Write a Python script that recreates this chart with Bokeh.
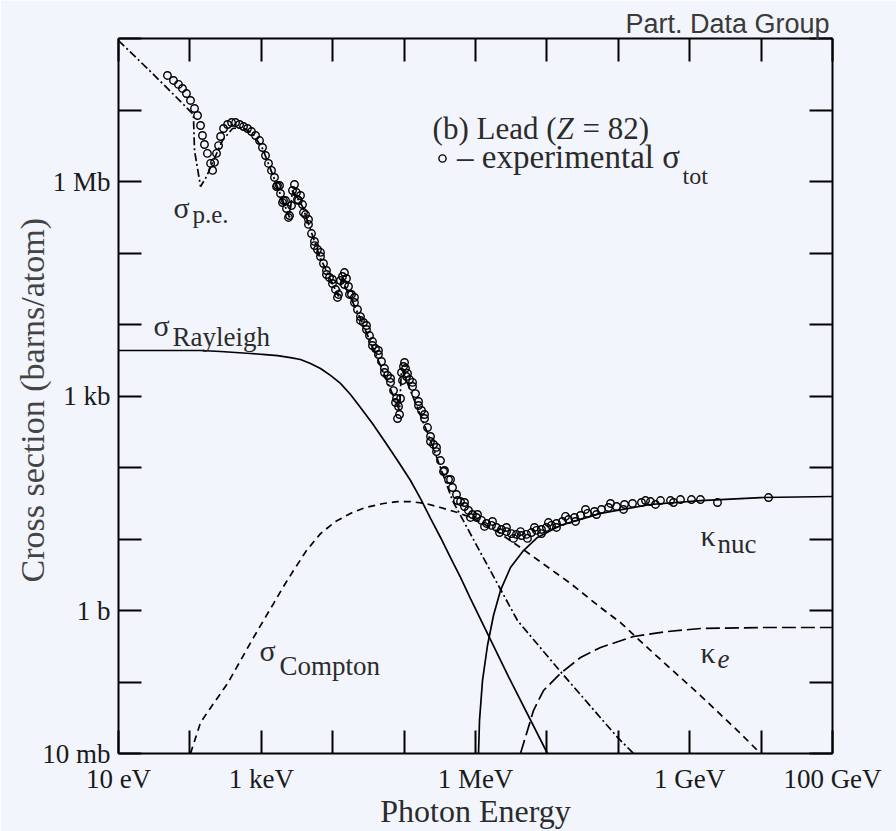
import numpy as np
from bokeh.plotting import figure
from bokeh.models import (Range1d, LogAxis, FixedTicker, CustomJSTickFormatter,
                          Label, Legend, LegendItem)
from bokeh.embed import file_html
from bokeh.resources import INLINE

# ---------------- data (photon energy in eV, cross section in barns/atom) -------------
# experimental total cross section, main sequence of points
tot_E = [48.5, 58.9, 69.2, 78.7, 89.5, 102, 116, 128, 141, 150,
         160, 176, 195, 208, 221, 236, 252, 269, 296, 337,
         383, 436, 496, 564, 641, 730, 830, 944, 1040, 1146,
         1262, 1390, 1531, 1687, 1858, 2046, 2254, 2483, 2649, 2735,
         2917, 3112, 3319, 3540, 3776, 4159, 4581, 5047, 5559, 6124,
         6745, 7430, 8185, 9016, 9931, 10940, 12050, 12850, 13710, 14620,
         15600, 16630, 18320, 20180, 22230, 24490, 26980, 29720, 32730, 36060,
         39720, 43750, 48190, 53090, 58610, 64570, 71120, 78340, 83560, 86300,
         92040, 98170, 1.047e5, 1.117e5, 1.191e5, 1.312e5, 1.445e5, 1.592e5, 1.754e5, 1.932e5,
         2.128e5, 2.344e5, 2.582e5, 2.844e5, 3.236e5, 3.681e5, 4.188e5, 4.764e5, 5.420e5, 6.166e5,
         7.015e5, 7.980e5, 9.078e5, 1.033e6, 1.213e6, 1.426e6, 1.675e6, 1.968e6, 2.312e6, 2.716e6,
         3.192e6, 3.750e6, 4.406e6, 5.176e6, 6.081e6, 7.145e6, 8.395e6, 9.863e6, 1.159e7, 1.361e7,
         1.652e7, 2.009e7, 2.438e7, 2.958e7, 3.707e7, 4.645e7, 5.821e7, 7.295e7, 9.441e7, 1.222e8,
         1.581e8, 2.113e8, 2.825e8, 3.899e8, 5.383e8, 7.430e8, 1.059e9, 1.416e9, 2.449e9, 1.271e10]
tot_sigma = [3.04e7, 2.59e7, 2.28e7, 2.00e7, 1.70e7, 1.36e7, 1.05e7, 8.38e6, 6.07e6, 4.40e6,
             3.29e6, 2.47e6, 1.79e6, 1.43e6, 1.85e6, 2.47e6, 3.18e6, 4.26e6, 5.51e6, 6.27e6,
             6.68e6, 6.68e6, 6.27e6, 5.87e6, 5.51e6, 5.00e6, 4.40e6, 3.74e6, 2.99e6, 2.31e6,
             1.79e6, 1.43e6, 1.14e6, 8.79e5, 6.79e5, 5.42e5, 4.19e5, 3.34e5, 4.61e5, 7.48e5,
             9.08e5, 7.01e5, 5.42e5, 6.37e5, 4.76e5, 3.45e5, 2.51e5, 1.87e5, 1.45e5, 1.12e5,
             8.93e4, 7.13e4, 5.69e4, 4.54e4, 3.74e4, 3.09e4, 2.63e4, 4.12e4, 4.69e4, 3.62e4,
             4.40e4, 3.40e4, 2.63e4, 2.03e4, 1.62e4, 1.29e4, 1.07e4, 8.51e3, 7.01e3, 5.78e3,
             4.61e3, 3.80e3, 3.04e3, 2.43e3, 1.94e3, 1.55e3, 1.19e3, 923, 713, 551,
             2.13e3, 2.59e3, 2.43e3, 2.07e3, 1.70e3, 1.36e3, 1.08e3, 838, 627, 484,
             362, 272, 210, 167, 125, 90.8, 67.9, 52.5, 41.9, 33.4,
             28.5, 25.1, 22.0, 20.0, 18.2, 16.5, 15.5, 14.5, 13.6, 12.7,
             11.9, 11.6, 11.2, 11.6, 12.3, 13.2, 13.6, 14.5, 15.5, 16.5,
             17.6, 18.7, 20.0, 21.3, 22.8, 24.3, 25.9, 27.6, 28.5, 30.4,
             31.4, 32.4, 33.4, 34.5, 34.5, 35.6, 35.6, 35.6, 32.4, 38.0]

# further experimental points (scatter between data sets)
tot2_E = [1633, 1799, 1982, 2183, 2404, 3214, 3899, 4581, 5559, 6745,
          8185, 9931, 11670, 14620, 17180, 20180, 24490, 29720, 36060, 43750,
          53090, 64570, 75860, 80910, 89130, 95060, 1.014e5, 1.081e5, 1.312e5, 1.592e5,
          1.932e5, 2.344e5, 2.844e5, 3.565e5, 4.467e5, 5.598e5, 7.015e5, 8.511e5, 1.067e6, 1.337e6,
          1.730e6, 2.168e6, 2.716e6, 3.404e6, 4.266e6, 5.346e6, 6.699e6, 8.395e6, 1.052e7, 1.361e7,
          1.824e7, 2.518e7, 3.475e7, 4.955e7, 7.780e7, 1.183e8, 2.404e8, 3.319e8, 5.929e8]
tot2_sigma = [8.51e5, 8.79e5, 5.08e5, 5.42e5, 3.14e5, 5.60e5, 3.68e5, 2.94e5, 1.27e5, 1.02e5,
              5.00e4, 4.26e4, 2.39e4, 5.33e4, 2.63e4, 2.39e4, 1.14e4, 9.68e3, 5.08e3, 4.33e3,
              2.13e3, 1.76e3, 811, 484, 923, 1.65e3, 2.94e3, 1.87e3, 1.55e3, 736,
              551, 231, 191, 87.9, 67.9, 34.5, 32.4, 20.0, 22.0, 15.0,
              17.6, 12.3, 14.5, 10.2, 12.7, 10.2, 14.5, 11.9, 17.0, 14.5,
              20.7, 17.6, 25.9, 22.0, 31.4, 25.9, 34.5, 30.4, 32.4]

# photoelectric absorption
pe_E = [10, 28.1, 62.8, 112, 116, 141, 171, 214, 286, 395, 546, 754, 1040, 1531, 2483,
        2735, 3776, 6745, 12050, 13270, 24490, 86300, 92040, 2.344e5, 4.764e5, 1.175e6,
        3.873e6, 1.549e7, 9.75e7, 1.633e8]
pe_sigma = [9.38e7, 3.45e7, 1.55e7, 8.65e6, 2.72e6, 8.51e5, 1.17e6, 1.97e6, 3.74e6, 5.51e6,
            5.69e6, 4.69e6, 2.90e6, 1.07e6, 3.14e5, 7.48e5, 4.47e5, 8.38e4, 2.47e4, 4.40e4,
            1.21e4, 627, 2.43e3, 239, 34.5, 6.47, 0.724, 0.140, 0.0168, 0.0100]

# Rayleigh (coherent) scattering
ray_E = [10, 141, 269, 706, 1146, 1687, 2564, 3540, 4887, 6745, 9311, 12850, 17740, 24490,
         36060, 54830, 80910, 1.230e5, 1.698e5, 2.344e5, 3.236e5, 4.467e5, 6.166e5, 8.511e5,
         2.897e6, 1.019e7]
ray_sigma = [4.33e3, 4.33e3, 4.19e3, 3.93e3, 3.80e3, 3.68e3, 3.45e3, 3.24e3, 2.85e3, 2.43e3,
             1.94e3, 1.50e3, 1.05e3, 690, 412, 224, 125, 65.8, 36.8, 19.4, 10.5, 5.51, 2.90,
             1.47, 0.119, 0.0100]

# Compton (incoherent) scattering
comp_E = [102, 141, 214, 337, 512, 778, 1074, 1483, 2046, 2825, 4295, 6745, 10940, 17740,
          28770, 51400, 80910, 1.230e5, 1.995e5, 3.236e5, 5.598e5, 9.376e5, 1.905e6, 4.266e6,
          9.550e6, 2.143e7, 5.636e7, 1.074e8, 2.825e8, 1.416e9, 5.140e9, 9.82e9]
comp_sigma = [0.0100, 0.0272, 0.0500, 0.0953, 0.200, 0.419, 0.724, 1.25, 2.17, 3.62, 6.90,
              11.9, 17.6, 22.8, 27.6, 31.4, 33.4, 33.4, 31.4, 27.6, 23.5, 19.4, 13.2, 7.60,
              4.26, 2.39, 1.10, 0.679, 0.276, 0.0647, 0.0191, 0.0100]

# pair production, nuclear field
nuc_E = [1.102e6, 1.138e6, 1.254e6, 1.472e6, 1.786e6, 2.239e6, 3.090e6, 4.699e6, 7.379e6,
         1.549e7, 5.636e7, 2.825e8, 1.416e9, 9.82e9, 1e11]
nuc_sigma = [0.0100, 0.0290, 0.105, 0.324, 0.851, 1.91, 3.99, 6.90, 10.5, 15.5, 22.8, 30.4,
             34.5, 38.0, 39.3]

# pair production, electron field
ke_E = [4.266e6, 5.346e6, 6.486e6, 8.954e6, 1.549e7, 2.958e7, 5.636e7, 1.633e8, 4.887e8,
        1.416e9, 9.82e9, 1e11]
ke_sigma = [0.0100, 0.0210, 0.0399, 0.0760, 0.132, 0.220, 0.304, 0.433, 0.508, 0.560, 0.578,
            0.578]

X_TICKS = [1e1, 1e2, 1e3, 1e4, 1e5, 1e6, 1e7, 1e8, 1e9, 1e10, 1e11]
X_TICK_LABELS = ["10 eV", "", "1 keV", "", "", "1 MeV", "", "", "1 GeV", "", "100 GeV"]
Y_TICKS = [1e-2, 1e-1, 1e0, 1e1, 1e2, 1e3, 1e4, 1e5, 1e6, 1e7, 1e8]
Y_TICK_LABELS = ["10 mb", "", "1 b", "", "", "1 kb", "", "", "1 Mb", "", ""]

# ---------------- figure ----------------
SERIF = "Liberation Serif"
BG = "#f3f5fc"
INK = "#2b2b2b"

p = figure(width=896, height=831, x_axis_type="log", y_axis_type="log",
           x_range=Range1d(10, 1e11), y_range=Range1d(1e-2, 1e8),
           output_backend="svg", toolbar_location=None,
           min_border_left=118, min_border_right=64, min_border_top=38, min_border_bottom=78,
           background_fill_color=BG, border_fill_color=BG)
p.xgrid.visible = False
p.ygrid.visible = False
p.outline_line_color = None

p.title.text = "Part. Data Group"
p.title.align = "right"
p.title.text_font = "Liberation Sans"
p.title.text_font_size = "27px"
p.title.text_font_style = "normal"
p.title.text_color = "#3a3a3a"
p.title.standoff = 0
p.title.offset = 3

fmt_code = """
const lt = Math.log10(tick);
for (let i = 0; i < vals.length; i++) {
  if (Math.abs(Math.log10(vals[i]) - lt) < 1e-6) { return labs[i]; }
}
return '';
"""

def style_axis(ax, ticks):
    ax.ticker = FixedTicker(ticks=ticks, minor_ticks=[])
    ax.major_tick_in = 23
    ax.major_tick_out = 0
    ax.minor_tick_in = 0
    ax.minor_tick_out = 0
    ax.axis_line_width = 2
    ax.axis_line_color = "black"
    ax.major_tick_line_width = 2
    ax.major_tick_line_color = "black"

xa = p.xaxis[0]
style_axis(xa, X_TICKS)
xa.formatter = CustomJSTickFormatter(args=dict(vals=X_TICKS, labs=X_TICK_LABELS), code=fmt_code)
xa.major_label_text_font = SERIF
xa.major_label_text_font_size = "27px"
xa.major_label_text_color = "#1a1a1a"
xa.major_label_standoff = 10
xa.axis_label = "Photon Energy"
xa.axis_label_text_font = SERIF
xa.axis_label_text_font_style = "normal"
xa.axis_label_text_font_size = "32px"
xa.axis_label_text_color = INK
xa.axis_label_standoff = -4

ya = p.yaxis[0]
style_axis(ya, Y_TICKS)
ya.formatter = CustomJSTickFormatter(args=dict(vals=Y_TICKS, labs=Y_TICK_LABELS), code=fmt_code)
ya.major_label_text_font = SERIF
ya.major_label_text_font_size = "27px"
ya.major_label_text_color = "#1a1a1a"
ya.major_label_standoff = 8
ya.axis_label = "Cross section  (barns/atom)"
ya.axis_label_text_font = SERIF
ya.axis_label_text_font_style = "normal"
ya.axis_label_text_font_size = "34px"
ya.axis_label_text_color = "#444444"
ya.axis_label_standoff = -12

top = LogAxis(formatter=CustomJSTickFormatter(code="return '';"),
              major_label_text_font_size="1px", major_label_standoff=0)
style_axis(top, X_TICKS)
p.add_layout(top, "above")
right = LogAxis(formatter=CustomJSTickFormatter(code="return '';"),
                major_label_text_font_size="1px", major_label_standoff=0)
style_axis(right, Y_TICKS)
p.add_layout(right, "right")

# ---------------- curves ----------------
LW = 1.7
p.line(ray_E, ray_sigma, line_color="black", line_width=LW)
p.line(nuc_E, nuc_sigma, line_color="black", line_width=LW)
p.line(pe_E, pe_sigma, line_color="black", line_width=LW, line_dash="8 3 2 3")
p.line(comp_E, comp_sigma, line_color="black", line_width=LW, line_dash="7 5")
p.line(ke_E, ke_sigma, line_color="black", line_width=LW, line_dash="14 5")

data_r = p.scatter(tot_E, tot_sigma, marker="circle", size=7.5, line_color="black",
                   line_width=1.4, fill_color=None)
p.scatter(tot2_E, tot2_sigma, marker="circle", size=7.5, line_color="black",
          line_width=1.4, fill_color=None)

legend = Legend(items=[LegendItem(label="\u2013 experimental \u03c3", renderers=[data_r])],
                location=(315, 577), padding=0, margin=0, spacing=0,
                glyph_width=18, glyph_height=36, label_height=36, label_standoff=6,
                background_fill_alpha=0, border_line_alpha=0,
                label_text_font=SERIF, label_text_font_size="33px", label_text_color=INK)
p.add_layout(legend)

# ---------------- text annotations (inside the plot area) ----------------
def at(px, py):
    """pixel position -> data coordinates (for placing text only)"""
    return 10 ** (1 + (px - 118) / 71.4), 10 ** (8 - (py - 38) / 71.5)

def lab(text, px, py, size, style="normal", align="left", font=SERIF, color=INK):
    x, y = at(px, py)
    p.add_layout(Label(x=x, y=y, text=text, text_font=font, text_font_size=f"{size}px",
                       text_font_style=style, text_align=align, text_baseline="alphabetic",
                       text_color=color))

lab("(b) Lead (", 556, 128, 31, align="right")
lab("Z", 556, 128, 31, style="italic")
lab("= 82)", 582, 128, 31)
lab("tot", 682, 175, 24)

lab("\u03c3", 173, 207, 30)
lab("p.e.", 192, 214, 25)
lab("\u03c3", 153, 325, 30)
lab("Rayleigh", 172, 336, 27)
lab("\u03c3", 259, 650, 30)
lab("Compton", 279, 665, 27)
lab("\u03ba", 700, 535, 30)
lab("nuc", 717, 543, 27)
lab("\u03ba", 700, 652, 30)
lab("e", 717, 658, 27, style="italic")

open("out.html", "w").write(file_html(p, INLINE))
